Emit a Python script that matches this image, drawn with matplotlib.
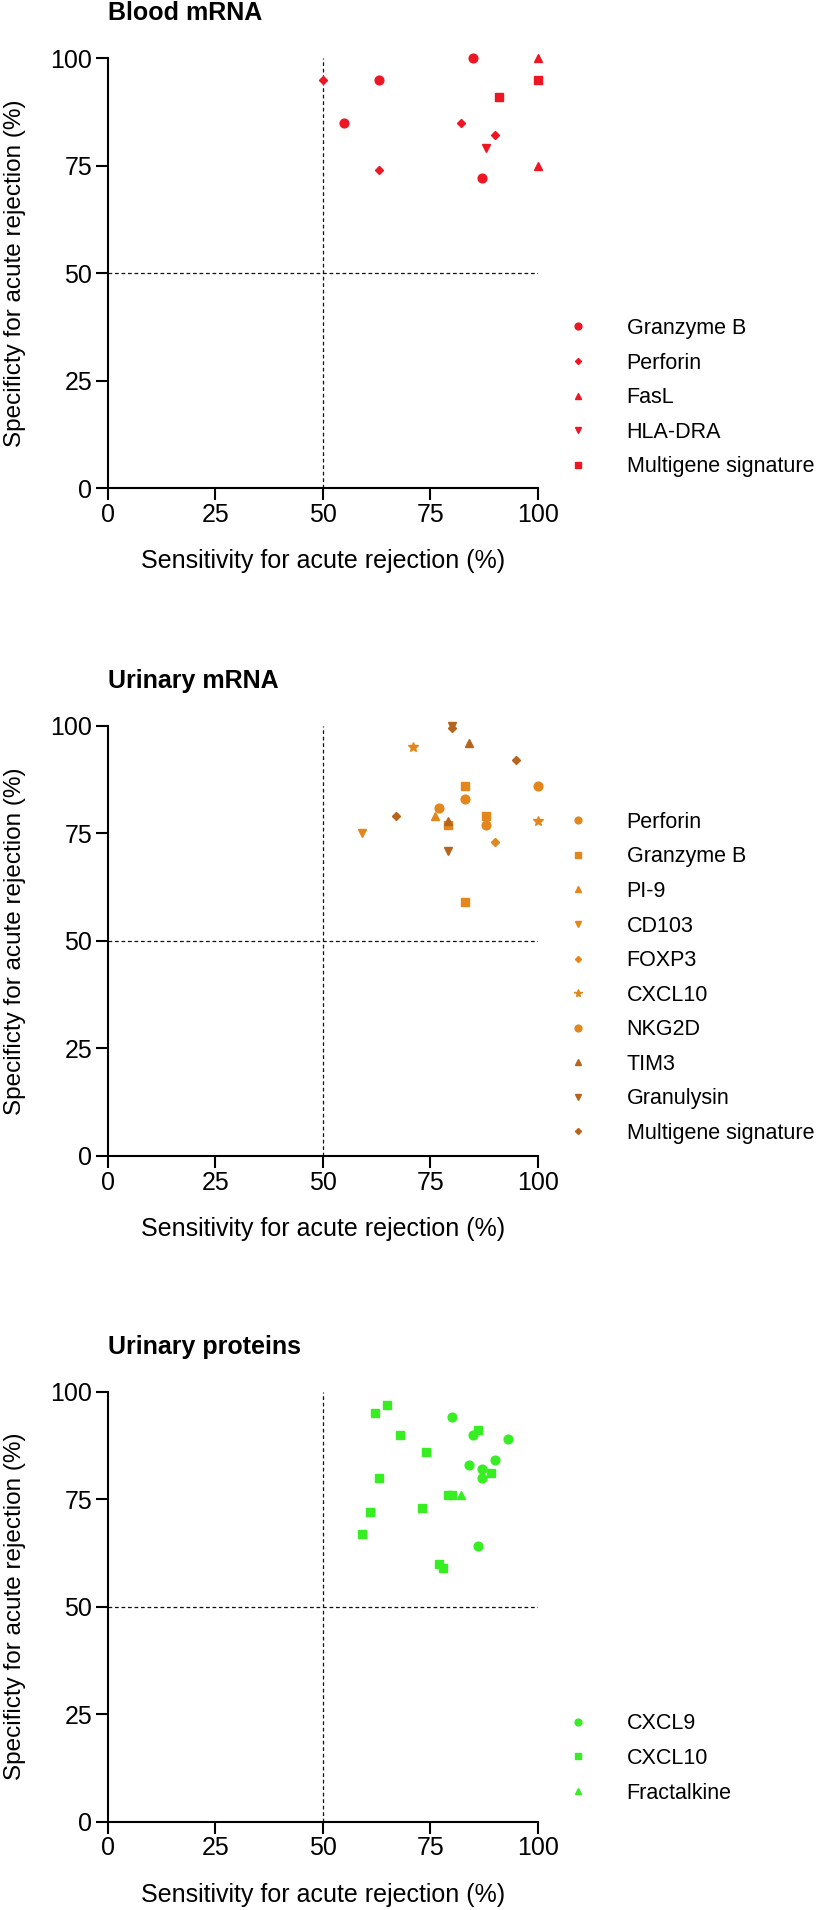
import matplotlib
matplotlib.use("Agg")
import matplotlib.pyplot as plt

plt.rcParams['font.family'] = ['Liberation Sans', 'DejaVu Sans']

# ---- Blood mRNA ----
blood_names = ['Granzyme B', 'Perforin', 'FasL', 'HLA-DRA', 'Multigene signature']
blood_x = [[85, 55, 63, 87], [50, 82, 90, 63], [100, 100], [88], [91, 100]]
blood_y = [[100, 85, 95, 72], [95, 85, 82, 74], [100, 75], [79], [91, 95]]
blood_markers = ['o', 'D', '^', 'v', 's']
blood_colors = ['#EE1622'] * 5

# ---- Urinary mRNA ----
urine_names = ['Perforin', 'Granzyme B', 'PI-9', 'CD103', 'FOXP3', 'CXCL10',
               'NKG2D', 'TIM3', 'Granulysin', 'Multigene signature']
urine_x = [[83, 88, 100], [83, 88, 83, 79], [76], [59], [90], [71, 100],
           [77], [84, 79], [80, 79], [80, 95, 67]]
urine_y = [[83, 77, 86], [86, 79, 59, 77], [79], [75], [73], [95, 78],
           [81], [96, 78], [100, 71], [99.5, 92, 79]]
urine_markers = ['o', 's', '^', 'v', 'D', '*', 'o', '^', 'v', 'D']
light, dark = '#E3861B', '#B5651D'
urine_colors = [light] * 7 + [dark] * 3

# ---- Urinary proteins ----
prot_names = ['CXCL9', 'CXCL10', 'Fractalkine']
prot_x = [[80, 85, 93, 84, 90, 87, 87, 86],
          [62, 65, 68, 74, 63, 73, 61, 59, 77, 78, 79, 80, 86, 89],
          [82]]
prot_y = [[94, 90, 89, 83, 84, 82, 80, 64],
          [95, 97, 90, 86, 80, 73, 72, 67, 60, 59, 76, 76, 91, 81],
          [76]]
prot_markers = ['o', 's', '^']
prot_colors = ['#36EE22'] * 3

marker_size = {'o': 6.3, 's': 6.0, '^': 6.0, 'v': 6.0, 'D': 3.9, '*': 7.5}

panels = [
    ('Blood mRNA', blood_names, blood_x, blood_y, blood_markers, blood_colors, 0.7445, 0.025),
    ('Urinary mRNA', urine_names, urine_x, urine_y, urine_markers, urine_colors, 0.3948, 0.028),
    ('Urinary proteins', prot_names, prot_x, prot_y, prot_markers, prot_colors, 0.0463, 0.042),
]

fig = plt.figure(figsize=(8.25, 19.1), dpi=100)

for title, names, xs, ys, markers, colors, bottom, leg_y in panels:
    ax = fig.add_axes([0.1309, bottom, 0.5212, 0.2251])

    # reference lines at 50 %
    ax.plot([50, 50], [0, 100], color='#111111', lw=0.9, ls=(0, (3, 2.2)), zorder=1)
    ax.plot([0, 100], [50, 50], color='#111111', lw=0.9, ls=(0, (3, 2.2)), zorder=1)

    for name, x, y, m, c in zip(names, xs, ys, markers, colors):
        ax.plot(x, y, ls='none', marker=m, ms=marker_size[m], color=c,
                mec=c, label=name, clip_on=False, zorder=3)

    ax.set_xlim(0, 100)
    ax.set_ylim(0, 100)
    ax.set_xticks([0, 25, 50, 75, 100])
    ax.set_yticks([0, 25, 50, 75, 100])
    for s in ['top', 'right']:
        ax.spines[s].set_visible(False)
    for s in ['left', 'bottom']:
        ax.spines[s].set_linewidth(1.5)
    ax.tick_params(axis='both', length=8.5, width=1.5, labelsize=18)
    ax.tick_params(axis='x', pad=2)
    ax.tick_params(axis='y', pad=3)

    ax.set_xlabel('Sensitivity for acute rejection (%)', fontsize=18)
    ax.set_ylabel('Specificty for acute rejection (%)', fontsize=17.5)
    ax.xaxis.set_label_coords(0.5, -0.142)
    ax.yaxis.set_label_coords(-0.19, 0.5)

    ax.text(0, 1 + 38 / 430, title, transform=ax.transAxes, ha='left',
            va='baseline', fontsize=18, fontweight='bold')

    ax.legend(loc='lower left', bbox_to_anchor=(1.067, leg_y), frameon=False,
              fontsize=15.5, handlelength=1.0, handletextpad=1.78,
              borderpad=0, borderaxespad=0, labelspacing=0.63,
              markerscale=0.78, numpoints=1)

fig.savefig('out.png', dpi=100)
